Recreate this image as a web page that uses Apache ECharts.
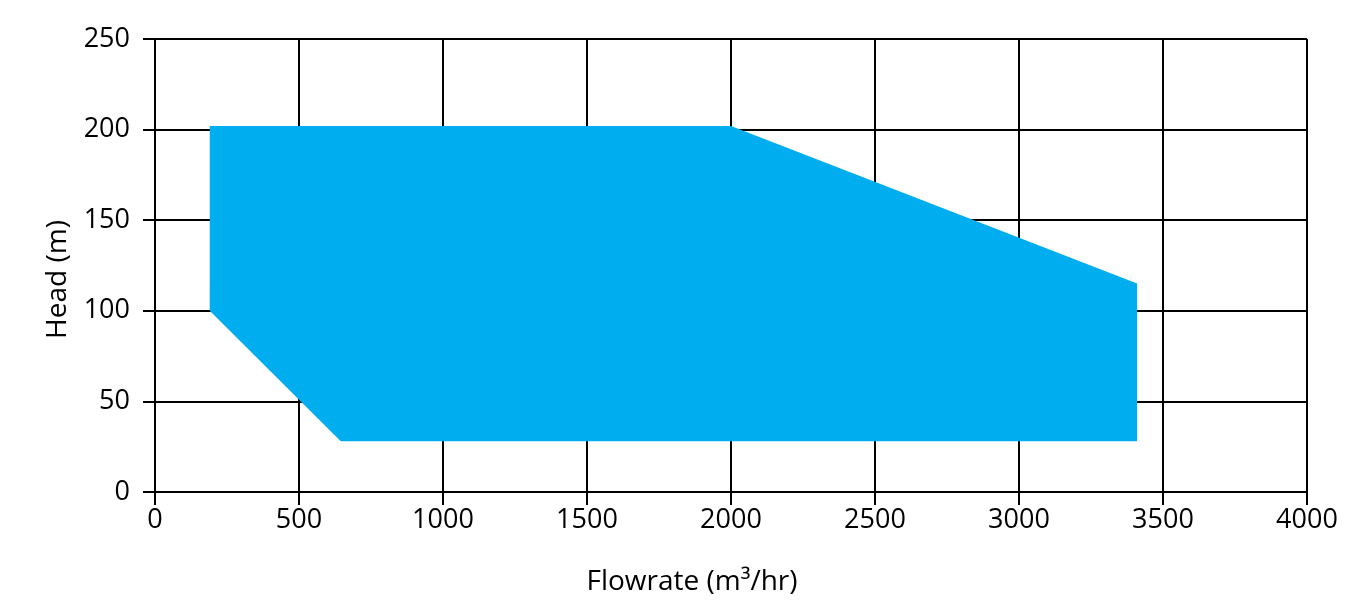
<!DOCTYPE html>
<html>
<head>
<meta charset="utf-8">
<script src="https://cdn.jsdelivr.net/npm/echarts@6/dist/echarts.min.js"></script>
<style>
html,body{margin:0;padding:0;background:#fff;}
#chart{width:1349px;height:608px;}
</style>
</head>
<body>
<div id="chart"></div>
<script>
// Operating envelope polygon vertices (flowrate, head)
const flowrate = [190, 2000, 3410, 3410, 645, 190];
const head = [202, 202, 115, 28, 28, 100];
const xTicks = [0, 500, 1000, 1500, 2000, 2500, 3000, 3500, 4000];
const yTicks = [0, 50, 100, 150, 200, 250];

const FONT = 'Open Sans';
const chart = echarts.init(document.getElementById('chart'));
chart.setOption({
  animation: false,
  backgroundColor: '#ffffff',
  grid: { left: 155, right: 42, top: 39, bottom: 116 },
  xAxis: {
    type: 'value',
    min: xTicks[0], max: xTicks[xTicks.length - 1], interval: 500,
    name: 'Flowrate (m³/hr)',
    nameLocation: 'middle',
    nameGap: 76,
    nameTextStyle: { fontFamily: FONT, fontSize: 28, color: '#000', padding: [0, 78, 0, 0] },
    axisLine: { show: true, lineStyle: { color: '#000', width: 2 } },
    axisTick: { show: true, length: 13, inside: false, lineStyle: { color: '#000', width: 2 } },
    axisLabel: { fontFamily: FONT, fontSize: 27, color: '#000', margin: 15, formatter: function (v) { return String(v); } },
    splitLine: { show: true, lineStyle: { color: '#000', width: 2 } }
  },
  yAxis: {
    type: 'value',
    min: yTicks[0], max: yTicks[yTicks.length - 1], interval: 50,
    name: 'Head (m)',
    nameLocation: 'middle',
    nameGap: 83,
    nameTextStyle: { fontFamily: FONT, fontSize: 28, color: '#000', padding: [0, 28, 0, 0] },
    axisLine: { show: true, lineStyle: { color: '#000', width: 2 } },
    axisTick: { show: true, length: 12, inside: false, lineStyle: { color: '#000', width: 2 } },
    axisLabel: { fontFamily: FONT, fontSize: 27, color: '#000', margin: 25, formatter: function (v) { return String(v); } },
    splitLine: { show: true, lineStyle: { color: '#000', width: 2 } }
  },
  series: [{
    type: 'custom',
    data: [0],
    renderItem: function (params, api) {
      const pts = flowrate.map(function (f, i) { return api.coord([f, head[i]]); });
      return { type: 'polygon', shape: { points: pts }, style: { fill: '#00AEEF' } };
    }
  }]
});
</script>
</body>
</html>
